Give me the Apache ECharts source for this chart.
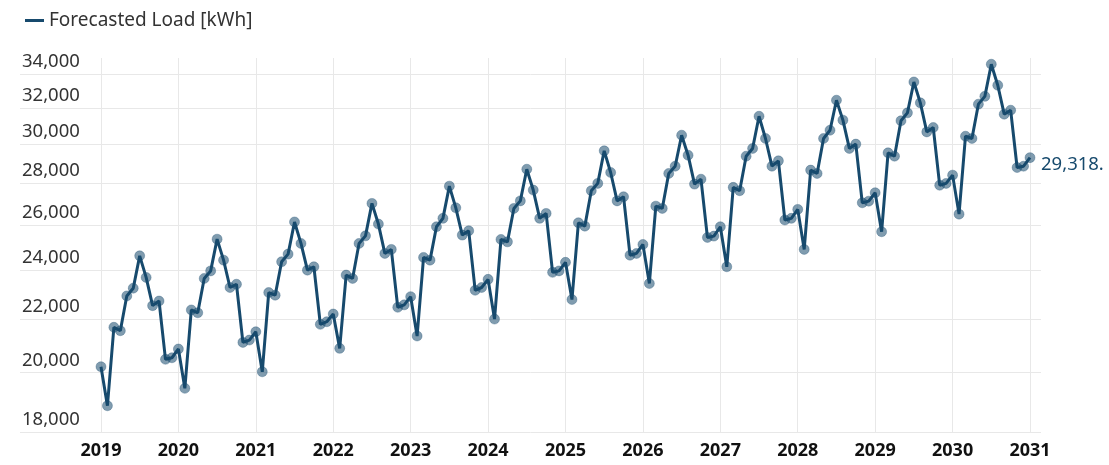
<!DOCTYPE html>
<html>
<head>
<meta charset="utf-8">
<script src="https://cdn.jsdelivr.net/npm/echarts@6/dist/echarts.min.js"></script>
<style>
  html, body { margin: 0; padding: 0; background: #fff; }
  #chart { width: 1109px; height: 465px; }
</style>
</head>
<body>
<div id="chart"></div>
<script>
// monthly forecast values, Jan..Dec per year
var load2019 = [20216, 18860, 21683, 21551, 22927, 23245, 24621, 23694, 22534, 22720, 20484, 20540];
var load2020 = [20862, 19453, 22363, 22250, 23652, 23970, 25362, 24433, 23273, 23409, 21109, 21197];
var load2021 = [21512, 20034, 23065, 22957, 24361, 24696, 26150, 25170, 24003, 24147, 21798, 21899];
var load2022 = [22201, 20886, 23793, 23652, 25170, 25511, 27027, 26052, 24727, 24904, 22469, 22566];
var load2023 = [22897, 21350, 24552, 24433, 25927, 26318, 27869, 26815, 25546, 25742, 23159, 23273];
var load2024 = [23612, 22003, 25349, 25241, 26787, 27148, 28721, 27675, 26318, 26550, 23909, 23970];
var load2025 = [24339, 22781, 26111, 25956, 27643, 28006, 29675, 28555, 27148, 27347, 24649, 24727];
var load2026 = [25123, 23440, 26896, 26787, 28505, 28874, 30512, 29445, 27969, 28216, 25440, 25500];
var load2027 = [25927, 24147, 27808, 27643, 29394, 29801, 31558, 30334, 28874, 29151, 26239, 26318];
var load2028 = [26741, 24904, 28674, 28505, 30334, 30780, 32470, 31339, 29801, 30031, 27056, 27135];
var load2029 = [27544, 25699, 29569, 29394, 31305, 31747, 33541, 32316, 30690, 30930, 27916, 28006];
var load2030 = [28420, 26516, 30456, 30334, 32242, 32692, 34616, 33345, 31673, 31898, 28807, 28874];
var load2031 = [29318];

var startYear = 2019;
var yearTicks = [2019, 2020, 2021, 2022, 2023, 2024, 2025, 2026, 2027, 2028, 2029, 2030, 2031];
var loadTicks = [18000, 20000, 22000, 24000, 26000, 28000, 30000, 32000, 34000];

var allLoad = [].concat(load2019, load2020, load2021, load2022, load2023, load2024,
    load2025, load2026, load2027, load2028, load2029, load2030, load2031);

// x as decimal year (one point per month)
var seriesData = allLoad.map(function (v, i) {
    return [startYear + i / 12, v];
});

var lineColor = '#174a6d';
var chart = echarts.init(document.getElementById('chart'));

var option = {
    animation: false,
    backgroundColor: '#fff',
    legend: {
        data: ['Forecasted Load [kWh]'],
        left: 20,
        top: 6,
        icon: 'rect',
        itemWidth: 19,
        itemHeight: 3,
        itemStyle: { color: lineColor, borderWidth: 0 },
        textStyle: { fontFamily: 'Noto Sans', fontSize: 19, color: '#333' }
    },
    grid: { left: 20, right: 68, top: 58, bottom: 33, containLabel: false },
    xAxis: {
        type: 'value',
        min: 2017.954,
        max: 2031.142,
        axisLine: { show: false },
        axisTick: { show: false, customValues: yearTicks },
        splitLine: { show: true, lineStyle: { color: '#e8e8e8', width: 1 } },
        axisLabel: {
            customValues: yearTicks,
            margin: 10,
            fontFamily: 'Noto Sans',
            fontWeight: 'bold',
            fontSize: 18,
            color: '#111',
            formatter: function (v) { return String(Math.round(v)); }
        }
    },
    yAxis: {
        type: 'log',
        logBase: 10,
        min: 18000,
        max: 35000,
        axisLine: { show: false },
        axisTick: { show: false, customValues: loadTicks },
        splitLine: { show: true, lineStyle: { color: '#e8e8e8', width: 1 } },
        axisLabel: {
            customValues: loadTicks,
            inside: true,
            align: 'left',
            verticalAlign: 'bottom',
            margin: 2,
            padding: [0, 0, 3, 0],
            fontFamily: 'Noto Sans',
            fontSize: 18.5,
            color: '#333',
            formatter: function (v) { return Number(v).toLocaleString('en-US'); }
        }
    },
    series: [{
        name: 'Forecasted Load [kWh]',
        type: 'line',
        data: seriesData,
        symbol: 'circle',
        symbolSize: 10,
        showSymbol: true,
        color: lineColor,
        lineStyle: { color: lineColor, width: 3 },
        itemStyle: { color: 'rgba(23,74,109,0.55)', borderColor: 'rgba(23,74,109,0.3)', borderWidth: 1 },
        endLabel: {
            show: true,
            distance: 11,
            offset: [0, 7],
            color: lineColor,
            fontFamily: 'Noto Sans',
            fontSize: 18.5,
            formatter: function (p) { return Number(p.value[1]).toLocaleString('en-US') + '.'; }
        }
    }]
};
chart.setOption(option);
</script>
</body>
</html>
